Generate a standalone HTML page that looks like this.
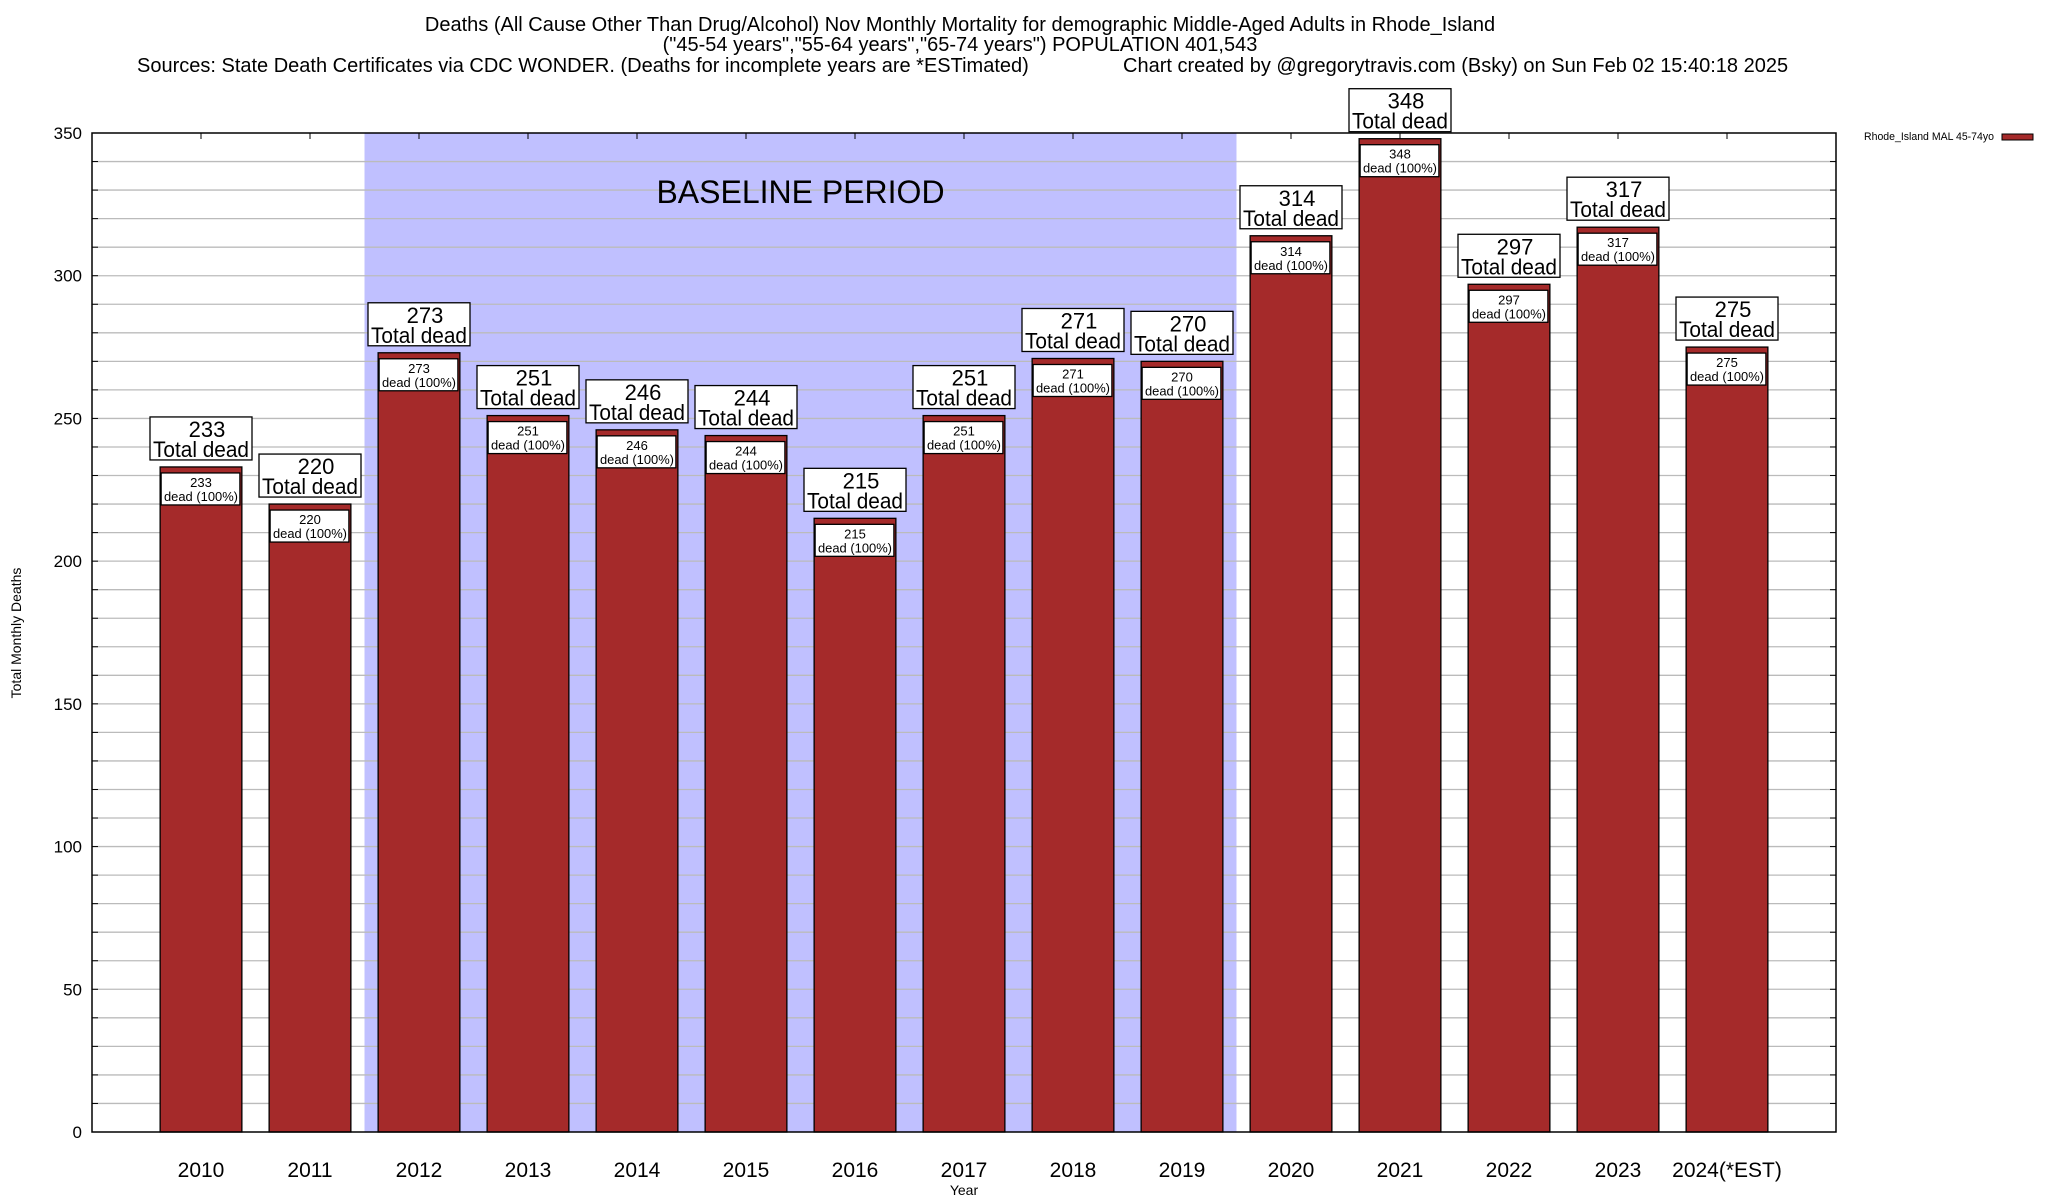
<!DOCTYPE html>
<html><head><meta charset="utf-8"><style>
html,body{margin:0;padding:0;background:#fff;width:2048px;height:1200px;overflow:hidden}
svg{display:block;font-family:"Liberation Sans",sans-serif}
</style></head><body>
<svg id="chart" width="2048" height="1200" viewBox="0 0 2048 1200">
<g font-size="20" text-anchor="middle" fill="#000">
<text x="960" y="31">Deaths (All Cause Other Than Drug/Alcohol) Nov Monthly Mortality for demographic Middle-Aged Adults in Rhode_Island</text>
<text x="960" y="51">("45-54 years","55-64 years","65-74 years") POPULATION 401,543</text>
<text x="137" y="72" text-anchor="start">Sources: State Death Certificates via CDC WONDER. (Deaths for incomplete years are *ESTimated)</text>
<text x="1123" y="72" text-anchor="start">Chart created by @gregorytravis.com (Bsky) on Sun Feb 02 15:40:18 2025</text>
</g>
<g id="plot"></g>
<text x="0" y="0" transform="translate(21,633) rotate(-90)" text-anchor="middle" font-size="14">Total Monthly Deaths</text>
<text x="964" y="1195" text-anchor="middle" font-size="14">Year</text>
<g>
<text x="1864" y="140" font-size="11" textLength="130" lengthAdjust="spacingAndGlyphs">Rhode_Island MAL 45-74yo</text>
<rect x="2002" y="134" width="31" height="6" fill="#a52a2a" stroke="#000" stroke-width="1"/>
</g>
</svg>
<script>
const categories=["2010","2011","2012","2013","2014","2015","2016","2017","2018","2019","2020","2021","2022","2023","2024(*EST)"];
const deaths=[233,220,273,251,246,244,215,251,271,270,314,348,297,317,275];
const yTicks=[0,50,100,150,200,250,300,350];
const baselineStart=1.5, baselineEnd=9.5;
const L=92,R=1836,T=133,B=1132;
const xMin=-1,xMax=15,yMax=350;
const NS="http://www.w3.org/2000/svg";
function X(i){return L+(i-xMin)/(xMax-xMin)*(R-L);}
function Y(v){return B-v/yMax*(B-T);}
const g=document.getElementById('plot');
function mk(tag,attrs,parent){const e=document.createElementNS(NS,tag);for(const k in attrs)e.setAttribute(k,attrs[k]);(parent||g).appendChild(e);return e;}
let sh=mk('rect',{x:X(baselineStart),y:T,width:X(baselineEnd)-X(baselineStart),height:B-T,fill:'#c0c0ff'});


for(let v=10;v<yMax;v+=10){
 let ln=mk('line',{x1:L,x2:R,y1:Y(v),y2:Y(v),stroke:'#bbb','stroke-width':1.3});
 
 
 mk('line',{x1:L,x2:L+6,y1:Y(v),y2:Y(v),stroke:'#000'});
 mk('line',{x1:R,x2:R-6,y1:Y(v),y2:Y(v),stroke:'#000'});
}
let bt=mk('text',{x:(X(baselineStart)+X(baselineEnd))/2,y:203,'font-size':32,'text-anchor':'middle'});
bt.textContent='BASELINE PERIOD';


yTicks.forEach(v=>{
 let t=mk('text',{x:L-10,y:Y(v)+6,'font-size':17,'text-anchor':'end'});
 t.textContent=v;
 
 
});
const bw=0.75*(X(1)-X(0));
categories.forEach((c,i)=>{
 const cx=X(i),v=deaths[i],top=Y(v);
 mk('line',{x1:cx,x2:cx,y1:T,y2:T+6,stroke:'#000'});
 let bar=mk('rect',{x:cx-bw/2,y:top,width:bw,height:B-top,fill:'#a52a2a',stroke:'#000','stroke-width':1.3});
 
 
 let ib=mk('rect',{x:cx-bw/2+1,y:top+6,width:bw-3,height:32,fill:'#fff',stroke:'#000','stroke-width':1.3});
 
 
 let t1=mk('text',{x:cx,y:top+20,'font-size':13,'text-anchor':'middle'});t1.textContent=v;
 
 
 let t2=mk('text',{x:cx,y:top+34,'font-size':13,'text-anchor':'middle',textLength:74,lengthAdjust:'spacingAndGlyphs'});t2.textContent='dead (100%)';
 
 
 let ob=mk('rect',{x:cx-51,y:top-50,width:102,height:43,fill:'#fff',stroke:'#000','stroke-width':1.3});
 
 
 let t3=mk('text',{x:cx+6,y:top-30,'font-size':22,'text-anchor':'middle'});t3.textContent=v;
 
 
 let t4=mk('text',{x:cx,y:top-10,'font-size':22,'text-anchor':'middle',textLength:96,lengthAdjust:'spacingAndGlyphs'});t4.textContent='Total dead';
 
 
 let xl=mk('text',{x:cx,y:1177,'font-size':21,'text-anchor':'middle'});xl.textContent=c;
 
 
});
let fr=mk('rect',{x:L,y:T,width:R-L,height:B-T,fill:'none',stroke:'#000','stroke-width':1.5});


</script>
</body></html>
